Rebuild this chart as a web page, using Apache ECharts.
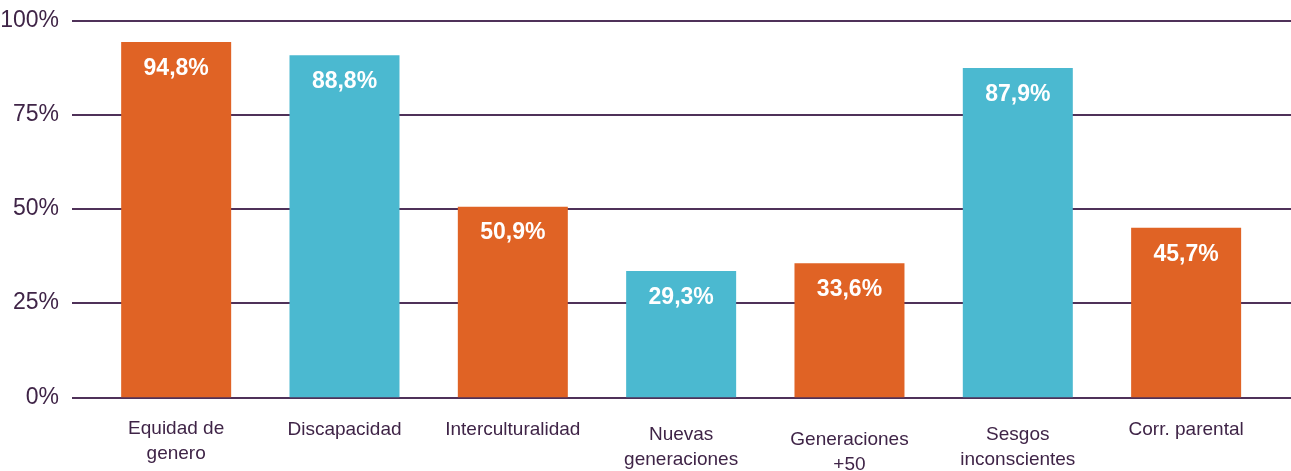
<!DOCTYPE html>
<html>
<head>
<meta charset="utf-8">
<script src="https://cdn.jsdelivr.net/npm/echarts@6/dist/echarts.min.js"></script>
<style>
html,body{margin:0;padding:0;background:#fff;}
#chart{width:1291px;height:471px;}
</style>
</head>
<body>
<div id="chart"></div>
<script>
// Categories (x axis)
var categories = ['Equidad de\ngenero', 'Discapacidad', 'Interculturalidad', 'Nuevas\ngeneraciones', 'Generaciones\n+50', 'Sesgos\ninconscientes', 'Corr. parental'];
// Bar heights as drawn in the picture (percent)
var barValues = [94.3, 90.8, 50.6, 33.5, 35.6, 87.4, 45.0];
// Printed value labels
var valueLabels = ['94,8%', '88,8%', '50,9%', '29,3%', '33,6%', '87,9%', '45,7%'];
// Bar colour group per category
var colorGroup = ['o', 'b', 'o', 'b', 'o', 'b', 'o'];
// Y tick labels
var yTicks = [0, 25, 50, 75, 100];
// Extra vertical offset of each category label (as drawn)
var labelOffsets = [5, 6, 6, 11, 16, 11, 6];

var COLORS = { o: '#E06325', b: '#4BB9D0' };
var TEXT = '#3f2447';
var LINE = '#4f3159';
var FONT = '"Liberation Sans", Arial, Helvetica, sans-serif';

var chart = echarts.init(document.getElementById('chart'), null, { renderer: 'canvas' });

var option = {
  animation: false,
  backgroundColor: '#ffffff',
  grid: [
    { left: 72, right: 0, top: 20.5, bottom: 73.7, containLabel: false, outerBoundsMode: 'none' },
    { left: 92, right: 20.7, top: 20.5, bottom: 73.7, containLabel: false, outerBoundsMode: 'none' }
  ],
  xAxis: [
    { gridIndex: 0, type: 'value', min: 0, max: 1, show: false },
    {
      gridIndex: 1, type: 'category',
      data: categories.map(function (c, i) {
        return { value: c, textStyle: { padding: [labelOffsets[i], 0, 0, 0] } };
      }),
      axisLine: { show: false },
      axisTick: { show: false },
      axisLabel: {
        interval: 0, margin: 14, color: TEXT, fontFamily: FONT,
        fontSize: 19, lineHeight: 25, align: 'center'
      }
    }
  ],
  yAxis: [
    {
      gridIndex: 0, type: 'value', min: 0, max: 100, interval: 25,
      axisLine: { show: false }, axisTick: { show: false },
      axisLabel: {
        margin: 13, color: TEXT, fontFamily: FONT, fontSize: 23,
        formatter: function (v) { return yTicks.indexOf(v) >= 0 ? v + '%' : ''; }
      },
      splitLine: { show: true, lineStyle: { color: LINE, width: 2 } }
    },
    { gridIndex: 1, type: 'value', min: 0, max: 100, show: false }
  ],
  series: [
    {
      type: 'bar', xAxisIndex: 1, yAxisIndex: 1,
      barWidth: 110,
      data: barValues.map(function (v, i) {
        return { value: v, itemStyle: { color: COLORS[colorGroup[i]] } };
      }),
      label: {
        show: true, position: 'insideTop', distance: 15,
        color: '#ffffff', fontFamily: FONT, fontWeight: 'bold', fontSize: 23,
        formatter: function (p) { return valueLabels[p.dataIndex]; }
      }
    }
  ]
};
chart.setOption(option);
</script>
</body>
</html>
